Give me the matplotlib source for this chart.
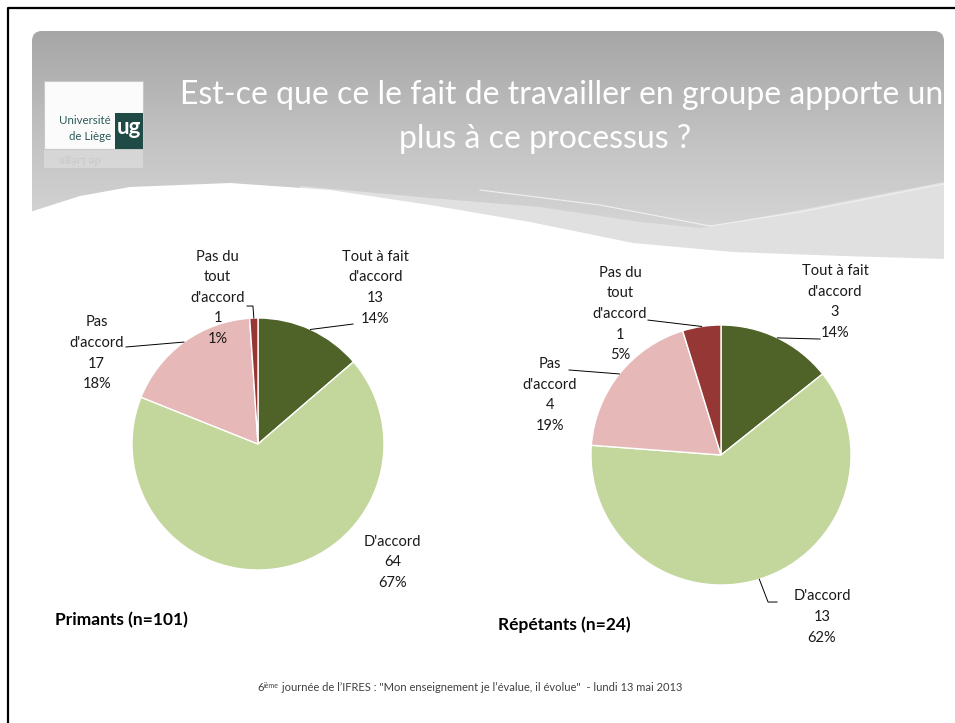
import numpy as np
import matplotlib
matplotlib.use("Agg")
import matplotlib.pyplot as plt
from matplotlib.patches import FancyBboxPatch, Polygon, Rectangle

plt.rcParams['font.family'] = ['Lato', 'DejaVu Sans']

# donnees
categories = ["Tout à fait\nd'accord", "D'accord", "Pas\nd'accord", "Pas du\ntout\nd'accord"]
primants = [13, 64, 17, 1]
repetants = [3, 13, 4, 1]
colors = ["#4F6228", "#C3D69B", "#E6B9B8", "#953735"]

title_l1 = "Est-ce que ce le fait de travailler en groupe apporte un"
title_l2 = "plus à ce processus ?"
footer = " journée de l’IFRES : \"Mon enseignement je l’évalue, il évolue\"  - lundi 13 mai 2013"

W, H = 955, 723
fig = plt.figure(figsize=(W / 100, H / 100), dpi=100)
fig.patch.set_facecolor("white")

bg = fig.add_axes([0, 0, 1, 1])
bg.set_xlim(0, W)
bg.set_ylim(H, 0)
bg.axis("off")

# bandeau gris en degrade
grad = np.linspace(0, 1, 256).reshape(-1, 1)
img = bg.imshow(grad, cmap=matplotlib.colors.LinearSegmentedColormap.from_list(
    "g", ["#a6a6a6", "#c4c4c4", "#dcdcdc"]), extent=(32, 944, 262, 31),
    aspect="auto", zorder=1)
clip = FancyBboxPatch((32, 31), 912, 231, boxstyle="round,pad=0,rounding_size=10",
                      transform=bg.transData, facecolor="none", edgecolor="none")
bg.add_patch(clip)
img.set_clip_path(clip)

# zone claire (trame)
light = Polygon([(300, 186), (430, 198), (540, 207), (640, 222), (700, 228), (800, 210),
                 (944, 182), (944, 262), (300, 262)], closed=True, facecolor="#e0e0e0",
                edgecolor="none", zorder=2)
bg.add_patch(light)
bg.plot([480, 600, 710, 800, 944], [190, 205, 226, 212, 184], color="#f0f0f0", lw=0.8, zorder=2)

# vague blanche
wx = np.array([30, 80, 130, 230, 330, 430, 530, 633, 733, 843, 946])
wy = np.array([212, 196, 187, 183, 190, 205, 222, 243, 252, 256, 259])
bg.add_patch(Polygon(np.column_stack([np.r_[wx, 946, 30], np.r_[wy, 275, 275]]),
                     closed=True, facecolor="white", edgecolor="none", zorder=3))

# cadre noir
bg.plot([8, 8, W], [H, 8, 8], color="black", lw=1.6, zorder=5)

# logo
bg.add_patch(Rectangle((44, 81), 99, 68, facecolor="#fbfbfb", edgecolor="#c8c8c8", lw=0.8, zorder=4))
bg.add_patch(Rectangle((115, 113), 28, 36, facecolor="#1f4a46", edgecolor="none", zorder=4))
bg.text(111, 121, "Université", ha="right", va="center", fontsize=8.3, color="#2b5b57", zorder=5)
bg.text(111, 137, "de Liège", ha="right", va="center", fontsize=8.3, color="#2b5b57", zorder=5)
bg.text(129, 128, "ug", ha="center", va="center", fontsize=16, fontweight="bold", color="white", zorder=5)
bg.add_patch(Rectangle((44, 150), 99, 18, facecolor="#e2e2e2", edgecolor="none", alpha=0.6, zorder=4))
bg.text(80, 159, "de Liège", ha="center", va="center", fontsize=8.3, color="#c8c8c8",
        rotation=180, zorder=5)

# titre
bg.text(562, 95, title_l1, ha="center", va="center", color="white", fontsize=23, zorder=6)
bg.text(545, 139, title_l2, ha="center", va="center", color="white", fontsize=23, zorder=6)


def draw_pie(values, cx, cy, r, label_pos, leaders, name, name_xy):
    ax = fig.add_axes([(cx - r) / W, (H - cy - r) / H, 2 * r / W, 2 * r / H])
    wedges, _ = ax.pie(values, colors=colors, startangle=90, counterclock=False,
                       wedgeprops=dict(edgecolor="white", linewidth=1))
    ax.set_xlim(-1, 1)
    ax.set_ylim(-1, 1)
    ax.set_aspect("equal")
    ax.axis("off")
    total = sum(values)
    for w, cat, v, (tx, ty), pts in zip(wedges, categories, values, label_pos, leaders):
        pct = round(100 * v / total)
        ax.text(tx, ty, f"{cat}\n{v}\n{pct}%", ha="center", va="center",
                fontsize=10.5, linespacing=1.6, color="#1a1a1a", clip_on=False)
        if pts:
            mid = np.deg2rad((w.theta1 + w.theta2) / 2)
            xs = [np.cos(mid)] + [p[0] for p in pts]
            ys = [np.sin(mid)] + [p[1] for p in pts]
            ax.plot(xs, ys, color="black", lw=0.7, clip_on=False)
    bg.text(name_xy[0], name_xy[1], name, ha="left", va="center", fontsize=12.5,
            fontweight="bold", color="black", zorder=6)


draw_pie(primants, 258, 444, 126,
         [(0.93, 1.24), (1.07, -0.94), (-1.28, 0.72), (-0.32, 1.16)],
         [[(0.754, 0.952)], None, [(-1.048, 0.770)], [(-0.04, 1.095), (-0.087, 1.095)]],
         "Primants (n=101)", (55, 620))

draw_pie(repetants, 721, 455, 130,
         [(0.877, 1.177), (0.777, -1.246), (-1.315, 0.462), (-0.777, 1.085)],
         [[(0.762, 0.892)], [(0.362, -1.131), (0.431, -1.131)], [(-1.169, 0.654)],
          [(-0.562, 1.038)]],
         "Répétants (n=24)", (498, 625))

# pied de page
t1 = bg.text(257, 693, "6", ha="left", va="bottom", fontsize=8, color="#404040", zorder=6)
t2 = bg.annotate("ième", xy=(1, 1), xycoords=t1, ha="left", va="top", fontsize=5,
                 color="#404040", zorder=6)
bg.annotate(footer, xy=(1, 0), xycoords=(t2, t1), ha="left", va="bottom", fontsize=8,
            color="#404040", zorder=6)

fig.savefig("out.png", dpi=100)
